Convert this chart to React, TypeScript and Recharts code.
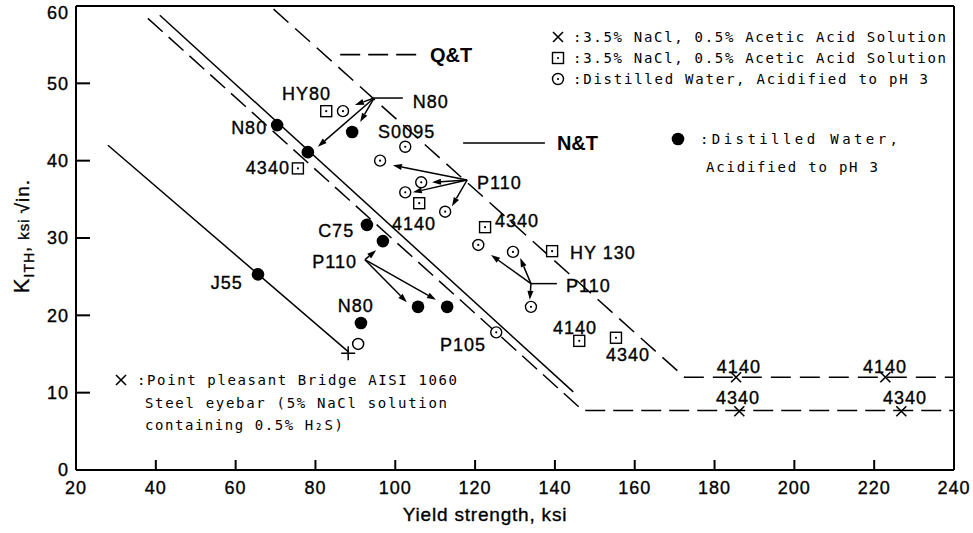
import React from 'react';
import { ComposedChart, Scatter, XAxis, YAxis, ReferenceLine, Customized } from 'recharts';

const xTicks = [20, 40, 60, 80, 100, 120, 140, 160, 180, 200, 220, 240];
const yTicks = [0, 10, 20, 30, 40, 50, 60];

// ● Distilled water, acidified to pH 3
const distilledFilled = [
  { x: 70.4, y: 44.6 }, { x: 78.1, y: 41.1 }, { x: 89.2, y: 43.7 },
  { x: 92.9, y: 31.7 }, { x: 96.9, y: 29.6 }, { x: 91.4, y: 19.0 },
  { x: 105.7, y: 21.1 }, { x: 113.0, y: 21.1 }, { x: 65.6, y: 25.3 },
];
// ⊙ Distilled water, acidified to pH 3
const distilledDotted = [
  { x: 86.9, y: 46.4 }, { x: 102.5, y: 41.8 }, { x: 96.2, y: 40.0 },
  { x: 106.5, y: 37.2 }, { x: 102.5, y: 35.9 }, { x: 112.5, y: 33.4 },
  { x: 120.8, y: 29.1 }, { x: 129.5, y: 28.2 }, { x: 134.0, y: 21.1 },
  { x: 125.3, y: 17.8 },
];
// O open circle next to the bridge point
const openCircles = [{ x: 90.7, y: 16.3 }];
// ⊡ 3.5% NaCl, 0.5% acetic acid
const naclSquares = [
  { x: 82.7, y: 46.4 }, { x: 75.6, y: 39.0 }, { x: 106.0, y: 34.5 },
  { x: 122.5, y: 31.4 }, { x: 139.3, y: 28.3 }, { x: 146.1, y: 16.7 },
  { x: 155.3, y: 17.1 },
];
// × 3.5% NaCl, 0.5% acetic acid
const naclCrosses = [
  { x: 185.4, y: 12.0 }, { x: 222.8, y: 12.0 }, { x: 186.2, y: 7.6 }, { x: 226.8, y: 7.6 },
];
// + Point Pleasant bridge eyebar
const bridgePoints = [{ x: 88.2, y: 15.1 }];

// trend lines
const ntLine = [{ x: 41, y: 58.8 }, { x: 144.6, y: 10.1 }];
const qtLowerLine = [{ x: 38, y: 58.4 }, { x: 147, y: 7.7 }, { x: 240, y: 7.7 }];
const qtUpperLine = [{ x: 69.5, y: 59.6 }, { x: 172.5, y: 12.0 }, { x: 240, y: 12.0 }];
const j55Line = [{ x: 28, y: 42.0 }, { x: 88.2, y: 15.3 }];
const qtKeyLine = [{ x: 86.2, y: 53.7 }, { x: 106.2, y: 53.7 }];
const ntKeyLine = [{ x: 117, y: 42.3 }, { x: 137.5, y: 42.3 }];

// arrows (from hub to point)
const arrows = [
  { x1: 94.7, y1: 48.1, x2: 89.9, y2: 47.2 },
  { x1: 94.7, y1: 48.1, x2: 91.2, y2: 45.0 },
  { x1: 94.7, y1: 48.1, x2: 80.6, y2: 41.8 },
  { x1: 118.0, y1: 37.5, x2: 99.4, y2: 39.4 },
  { x1: 118.0, y1: 37.5, x2: 109.2, y2: 37.2 },
  { x1: 118.0, y1: 37.5, x2: 104.4, y2: 35.9 },
  { x1: 118.0, y1: 37.5, x2: 114.2, y2: 34.1 },
  { x1: 92.4, y1: 27.2, x2: 95.2, y2: 28.4 },
  { x1: 92.4, y1: 27.2, x2: 102.9, y2: 21.7 },
  { x1: 92.4, y1: 27.2, x2: 110.2, y2: 22.0 },
  { x1: 134.0, y1: 24.1, x2: 124.0, y2: 27.8 },
  { x1: 134.0, y1: 24.1, x2: 131.3, y2: 27.4 },
  { x1: 134.0, y1: 24.1, x2: 133.7, y2: 22.0 },
];
const connectors = [
  { x1: 94.7, y1: 48.1, x2: 101.9, y2: 48.1 },
  { x1: 134.0, y1: 24.1, x2: 140.5, y2: 24.1 },
];

const pointLabels = [
  { x: 71.6, y: 48.6, text: 'HY80', anchor: 'start' },
  { x: 67.9, y: 44.2, text: 'N80', anchor: 'end' },
  { x: 73.6, y: 39.1, text: '4340', anchor: 'end' },
  { x: 104.4, y: 47.6, text: 'N80', anchor: 'start' },
  { x: 95.7, y: 43.7, text: 'S0095', anchor: 'start' },
  { x: 120.5, y: 37.1, text: 'P110', anchor: 'start' },
  { x: 99.2, y: 31.9, text: '4140', anchor: 'start' },
  { x: 89.7, y: 30.9, text: 'C75', anchor: 'end' },
  { x: 125.0, y: 32.2, text: '4340', anchor: 'start' },
  { x: 143.8, y: 28.1, text: 'HY 130', anchor: 'start' },
  { x: 90.4, y: 27.0, text: 'P110', anchor: 'end' },
  { x: 85.6, y: 21.2, text: 'N80', anchor: 'start' },
  { x: 111.2, y: 16.2, text: 'P105', anchor: 'start' },
  { x: 142.8, y: 23.8, text: 'P110', anchor: 'start' },
  { x: 139.5, y: 18.4, text: '4140', anchor: 'start' },
  { x: 152.8, y: 14.9, text: '4340', anchor: 'start' },
  { x: 186.1, y: 13.3, text: '4140', anchor: 'middle' },
  { x: 222.7, y: 13.3, text: '4140', anchor: 'middle' },
  { x: 185.9, y: 9.4, text: '4340', anchor: 'middle' },
  { x: 227.7, y: 9.4, text: '4340', anchor: 'middle' },
  { x: 61.8, y: 24.2, text: 'J55', anchor: 'end' },
];
const keyLabels = [
  { x: 108.7, y: 53.7, text: 'Q&T' },
  { x: 140.5, y: 42.3, text: 'N&T' },
];

const legendRows = [
  { sym: 'cross', text: ':3.5% NaCl, 0.5% Acetic Acid Solution' },
  { sym: 'square', text: ':3.5% NaCl, 0.5% Acetic Acid Solution' },
  { sym: 'circle', text: ':Distilled Water, Acidified to pH 3' },
];
const legendFilled = [':Distilled Water,', 'Acidified to pH 3'];
const noteLines = [':Point pleasant Bridge AISI 1060', 'Steel eyebar (5% NaCl solution', 'containing 0.5% H\u2082S)'];

const SANS = 'Liberation Sans, Arial, sans-serif';
const MONO = 'DejaVu Sans Mono, monospace';
const INK = { fill: '#000', stroke: '#000', strokeWidth: 0.35 };

const Empty = () => <g />;

const FilledDot = (p: any) => <circle cx={p.cx} cy={p.cy} r={6.3} fill="#000" />;
const DottedCircle = (p: any) => (
  <g>
    <circle cx={p.cx} cy={p.cy} r={5.5} fill="#fff" stroke="#000" strokeWidth={1.4} />
    <circle cx={p.cx} cy={p.cy} r={1.1} fill="#000" />
  </g>
);
const OpenCircle = (p: any) => (
  <circle cx={p.cx} cy={p.cy} r={5.5} fill="#fff" stroke="#000" strokeWidth={1.5} />
);
const DottedSquare = (p: any) => (
  <g>
    <rect x={p.cx - 5.5} y={p.cy - 5.5} width={11} height={11} fill="#fff" stroke="#000" strokeWidth={1.4} />
    <circle cx={p.cx} cy={p.cy} r={1.1} fill="#000" />
  </g>
);
const Cross = (p: any) => (
  <g stroke="#000" strokeWidth={1.6}>
    <line x1={p.cx - 5} y1={p.cy - 5} x2={p.cx + 5} y2={p.cy + 5} />
    <line x1={p.cx - 5} y1={p.cy + 5} x2={p.cx + 5} y2={p.cy - 5} />
  </g>
);
const Plus = (p: any) => (
  <g stroke="#000" strokeWidth={1.5}>
    <line x1={p.cx - 7} y1={p.cy} x2={p.cx + 7} y2={p.cy} />
    <line x1={p.cx} y1={p.cy - 7} x2={p.cx} y2={p.cy + 7} />
  </g>
);
const PointLabel = (p: any) => {
  const d = p.payload ?? p;
  return (
    <text x={p.cx} y={p.cy} dy="0.35em" textAnchor={d.anchor} fontFamily={SANS} fontSize={18} letterSpacing={1} {...INK}>
      {d.text}
    </text>
  );
};
const KeyLabel = (p: any) => {
  const d = p.payload ?? p;
  return (
    <text x={p.cx} y={p.cy} dy="0.35em" textAnchor="start" fontFamily={SANS} fontSize={20} fontWeight="bold" fill="#000">
      {d.text}
    </text>
  );
};

const ArrowShape = (p: any) => {
  const { x1, y1, x2, y2 } = p;
  const ang = Math.atan2(y2 - y1, x2 - x1);
  const L = 9;
  const W = 3;
  const bx = x2 - L * Math.cos(ang);
  const by = y2 - L * Math.sin(ang);
  const pts = `${x2},${y2} ${bx - W * Math.sin(ang)},${by + W * Math.cos(ang)} ${bx + W * Math.sin(ang)},${by - W * Math.cos(ang)}`;
  return (
    <g>
      <line x1={x1} y1={y1} x2={bx} y2={by} stroke="#000" strokeWidth={1.5} />
      <polygon points={pts} fill="#000" />
    </g>
  );
};

const XTick = (p: any) => (
  <g>
    <line x1={p.x} y1={p.y} x2={p.x} y2={p.y - 10} stroke="#000" strokeWidth={2} />
    <text x={p.x} y={p.y + 18} dy="0.35em" textAnchor="middle" fontFamily={SANS} fontSize={18} letterSpacing={1} {...INK}>
      {p.payload.value}
    </text>
  </g>
);
const YTick = (p: any) => (
  <g>
    <line x1={p.x} y1={p.y} x2={p.x + 14} y2={p.y} stroke="#000" strokeWidth={2} />
    <text x={p.x - 7} y={p.payload.value === 60 ? p.y + 7 : p.y} dy="0.35em" textAnchor="end" fontFamily={SANS} fontSize={18} letterSpacing={1} {...INK}>
      {p.payload.value}
    </text>
  </g>
);

const legendY = [37, 58, 79];
const legendLen = [373, 373, 355];
const noteY = [380, 403, 425];
const noteLen = [320, 302, 198];

const Annotations = () => (
  <g>
    {legendRows.map((r, i) => (
      <g key={i}>
        {r.sym === 'cross' && <Cross cx={558} cy={legendY[i]} />}
        {r.sym === 'square' && <DottedSquare cx={558} cy={legendY[i]} />}
        {r.sym === 'circle' && <DottedCircle cx={558} cy={legendY[i]} />}
        <text x={573} y={legendY[i]} dy="0.35em" fontFamily={MONO} fontSize={14} textLength={legendLen[i]} lengthAdjust="spacing" fill="#000">
          {r.text}
        </text>
      </g>
    ))}
    <FilledDot cx={678} cy={139} />
    <text x={700} y={139} dy="0.35em" fontFamily={MONO} fontSize={14} textLength={198} lengthAdjust="spacing" fill="#000">{legendFilled[0]}</text>
    <text x={706} y={167} dy="0.35em" fontFamily={MONO} fontSize={14} textLength={172} lengthAdjust="spacing" fill="#000">{legendFilled[1]}</text>
    <Cross cx={121} cy={noteY[0]} />
    {noteLines.map((t, i) => (
      <text key={i} x={i === 0 ? 137 : 145} y={noteY[i]} dy="0.35em" fontFamily={MONO} fontSize={14} textLength={noteLen[i]} lengthAdjust="spacing" fill="#000">
        {t}
      </text>
    ))}
    <text x={485} y={514} dy="0.35em" textAnchor="middle" fontFamily={SANS} fontSize={19} letterSpacing={0.8} {...INK}>
      Yield strength, ksi
    </text>
    <text transform="translate(23,236) rotate(-90)" textAnchor="middle" dy="0.35em" fontFamily={SANS} letterSpacing={1} {...INK}>
      <tspan fontSize={22}>K</tspan>
      <tspan fontSize={14} dy="5">ITH</tspan>
      <tspan fontSize={18} dy="-5">, </tspan>
      <tspan fontSize={15}>ksi </tspan>
      <tspan fontSize={19}>{'\u221Ain.'}</tspan>
    </text>
  </g>
);

export default function App() {
  return (
    <div style={{ position: 'absolute', left: 0, top: 0, width: 973, height: 533, background: '#fff' }}>
      <ComposedChart width={973} height={533} margin={{ top: 6, right: 19, bottom: 13, left: 16 }}>
        <XAxis
          dataKey="x"
          type="number"
          domain={[20, 240]}
          ticks={xTicks}
          interval={0}
          height={50}
          tickSize={0}
          tickMargin={0}
          tickLine={false}
          tick={<XTick />}
          axisLine={{ stroke: '#000', strokeWidth: 2 }}
          allowDataOverflow
        />
        <YAxis
          dataKey="y"
          type="number"
          domain={[0, 60]}
          ticks={yTicks}
          interval={0}
          width={60}
          tickSize={0}
          tickMargin={0}
          tickLine={false}
          tick={<YTick />}
          axisLine={{ stroke: '#000', strokeWidth: 2 }}
          allowDataOverflow
        />
        <ReferenceLine y={60} stroke="#000" strokeWidth={2} />
        <ReferenceLine x={240} stroke="#000" strokeWidth={2} />

        <Scatter data={ntLine} line={{ stroke: '#000', strokeWidth: 1.5 }} shape={<Empty />} isAnimationActive={false} />
        <Scatter data={j55Line} line={{ stroke: '#000', strokeWidth: 1.5 }} shape={<Empty />} isAnimationActive={false} />
        <Scatter data={qtLowerLine} line={{ stroke: '#000', strokeWidth: 1.5, strokeDasharray: '20 8' }} shape={<Empty />} isAnimationActive={false} />
        <Scatter data={qtUpperLine} line={{ stroke: '#000', strokeWidth: 1.5, strokeDasharray: '20 9' }} shape={<Empty />} isAnimationActive={false} />
        <Scatter data={qtKeyLine} line={{ stroke: '#000', strokeWidth: 1.8, strokeDasharray: '20 8' }} shape={<Empty />} isAnimationActive={false} />
        <Scatter data={ntKeyLine} line={{ stroke: '#000', strokeWidth: 1.5 }} shape={<Empty />} isAnimationActive={false} />

        {arrows.map((a, i) => (
          <ReferenceLine key={'a' + i} segment={[{ x: a.x1, y: a.y1 }, { x: a.x2, y: a.y2 }]} shape={ArrowShape} />
        ))}
        {connectors.map((a, i) => (
          <ReferenceLine key={'c' + i} segment={[{ x: a.x1, y: a.y1 }, { x: a.x2, y: a.y2 }]} stroke="#000" strokeWidth={1.5} />
        ))}

        <Scatter data={distilledFilled} shape={<FilledDot />} isAnimationActive={false} />
        <Scatter data={distilledDotted} shape={<DottedCircle />} isAnimationActive={false} />
        <Scatter data={openCircles} shape={<OpenCircle />} isAnimationActive={false} />
        <Scatter data={naclSquares} shape={<DottedSquare />} isAnimationActive={false} />
        <Scatter data={naclCrosses} shape={<Cross />} isAnimationActive={false} />
        <Scatter data={bridgePoints} shape={<Plus />} isAnimationActive={false} />
        <Scatter data={pointLabels} shape={<PointLabel />} isAnimationActive={false} />
        <Scatter data={keyLabels} shape={<KeyLabel />} isAnimationActive={false} />

        <Customized component={<Annotations />} />
      </ComposedChart>
    </div>
  );
}
